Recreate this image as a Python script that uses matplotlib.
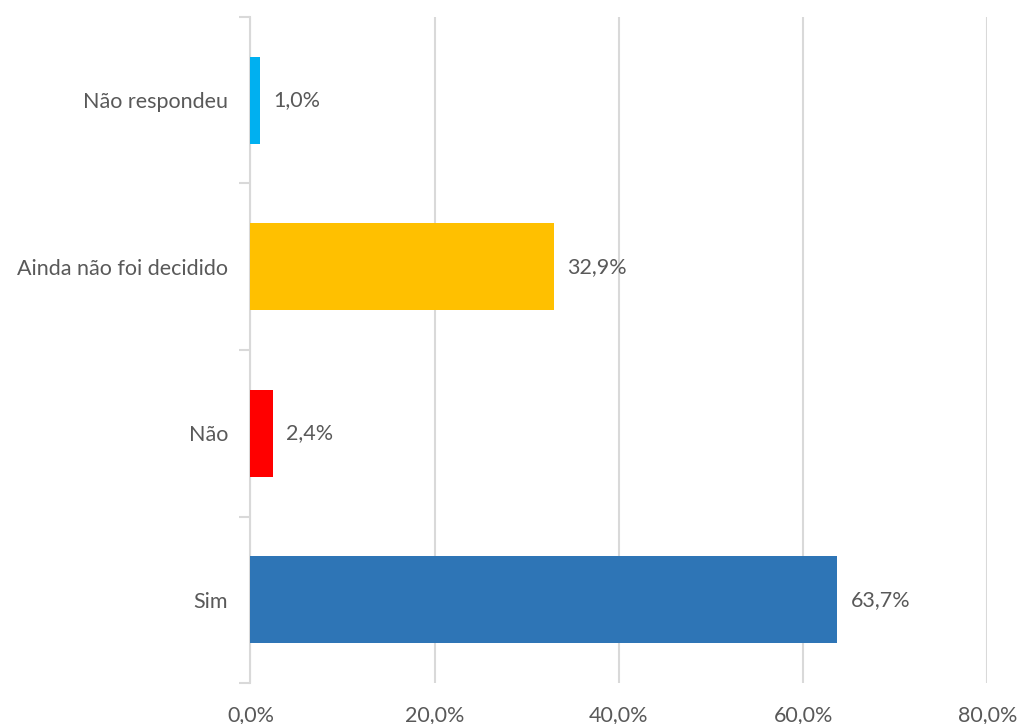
import matplotlib.pyplot as plt
from matplotlib.ticker import FuncFormatter

CATEGORIES = ['Sim', 'Não', 'Ainda não foi decidido', 'Não respondeu']
VALUES = [63.7, 2.4, 32.9, 1.0]
COLORS = ['#2E75B6', '#FF0000', '#FFC000', '#00B0F0']
XTICKS = [0, 20, 40, 60, 80]

TEXT_COLOR = '#595959'
GRID_COLOR = '#D9D9D9'


def pct(v, pos=None):
    return f'{v:.1f}%'.replace('.', ',')


def main():
    plt.rcParams['font.family'] = ['Lato', 'DejaVu Sans']
    fig = plt.figure(figsize=(10.2, 7.24), dpi=100)
    ax = fig.add_axes([250.5 / 1020, 1 - 683 / 724, (987.5 - 250.5) / 1020, (683 - 17) / 724])

    ypos = range(len(CATEGORIES))
    ax.barh(ypos, VALUES, height=0.52, color=COLORS, zorder=3)
    for y, v in zip(ypos, VALUES):
        ax.text(v + 1.5, y, pct(v), va='center', ha='left',
                fontsize=15.5, color=TEXT_COLOR)

    ax.set_xlim(0, 80)
    ax.set_ylim(-0.5, len(CATEGORIES) - 0.5)
    ax.set_xticks(XTICKS)
    ax.xaxis.set_major_formatter(FuncFormatter(pct))
    ax.set_yticks(ypos)
    ax.set_yticklabels(CATEGORIES)
    ax.set_yticks([y - 0.5 for y in range(len(CATEGORIES) + 1)], minor=True)

    ax.grid(axis='x', color=GRID_COLOR, linewidth=1.5, zorder=0)
    for side in ['top', 'right', 'bottom']:
        ax.spines[side].set_visible(False)
    ax.spines['left'].set_color(GRID_COLOR)
    ax.spines['left'].set_linewidth(1.5)

    ax.tick_params(axis='x', length=0, pad=16, labelsize=15.5, labelcolor=TEXT_COLOR)
    ax.tick_params(axis='y', which='major', length=0, pad=16,
                   labelsize=15.5, labelcolor=TEXT_COLOR)
    ax.tick_params(axis='y', which='minor', length=8, width=1.5, color=GRID_COLOR)

    fig.savefig('out.png', dpi=100)


if __name__ == '__main__':
    main()
